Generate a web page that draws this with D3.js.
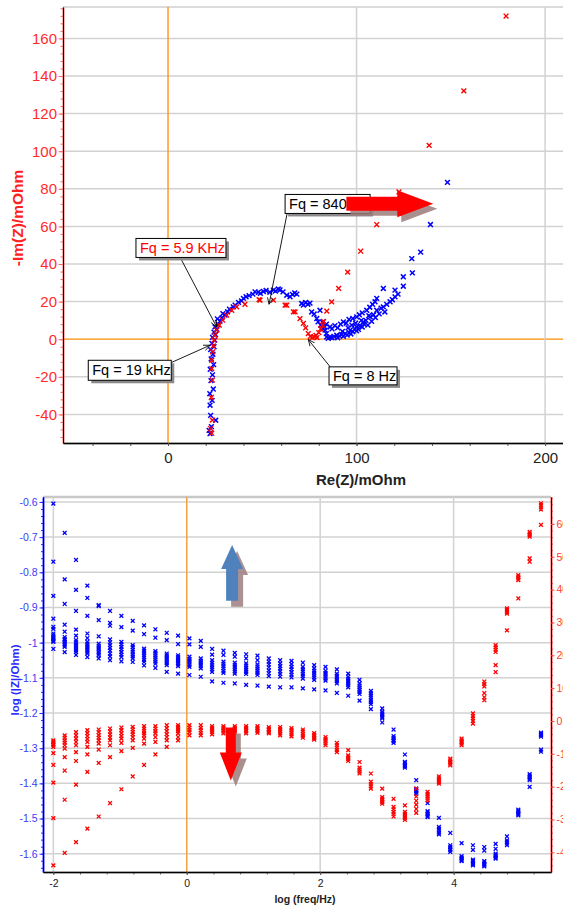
<!DOCTYPE html>
<html>
<head>
<meta charset="utf-8">
<script src="https://cdn.jsdelivr.net/npm/d3@7"></script>
<style>
  body { margin: 0; background: #fff; }
  svg { display: block; font-family: "Liberation Sans", Arial, sans-serif; }
</style>
</head>
<body>
<svg id="chart" width="563" height="908"></svg>
<script>
// ---------- Nyquist data (Re(Z), -Im(Z)) in mOhm ----------
const nyqBlue = [
  [22.3,-50.2],[21.8,-48.5],[23.0,-46.5],[25.3,-43.1],[22.6,-40.5],[22.3,-35.1],[23.4,-32.5],[22.2,-29],
  [24.0,-26.5],[22.8,-22],[23.6,-19],[22.4,-16],[24.2,-13.5],[22.9,-10.5],[23.8,-8],[22.6,-5.5],
  [24.4,-4],[23.3,-2.2],[24.8,-0.5],[23.6,1],[25.2,2.5],[24.4,3.8],[25.9,5.2],[24.9,6.6],[26.6,7.8],
  [27.6,9.6],[26.2,10.8],[28.6,11.4],[30.2,12.8],[29.1,13.6],[31.6,14.6],[32.6,16.0],[34.6,17.2],
  [35.6,18.1],[37.4,19.6],[39.0,20.4],[40.0,21.7],[41.4,22.6],[43.0,23.2],[45.0,24.0],[46.2,25.2],
  [47.9,25.0],[49.0,24.4],[50.6,25.4],[52.0,25.9],[54.0,25.0],[55.9,26.1],[57.0,25.6],[58.5,26.7],
  [59.4,26.2],[61.0,25.2],[63.0,23.4],[64.7,22.6],[66.0,23.8],[67.2,24.6],[68.3,24.0],[70.9,19.0],
  [71.8,18.1],[73.0,19.6],[74.2,18.6],[75.3,19.2],[76.2,14.5],[77.5,13.4],[78.9,11.0],[80.6,15.4],
  [79.6,9.2],[81.0,7.5],[82.0,9.0],[83.0,6.4],[84.0,8.0],[82.2,5.5],[83.3,4.8],[84.0,3.0],[84.2,1.2],
  [85.0,0.5],[85.9,6.5],[86.0,1.0],[87.0,0.8],[87.0,5.5],[88.0,1.5],[88.5,7.2],[89.5,2.1],[90.0,0.8],
  [90.0,6.0],[91.0,1.8],[91.5,8.0],[92.0,2.5],[92.5,4.2],[93.0,1.5],[93.0,9.2],[94.0,3.0],[94.5,8.5],
  [95.0,2.2],[95.5,6.0],[96.0,3.5],[96.0,10.5],[96.6,4.8],[97.0,2.8],[97.5,7.5],[98.0,4.0],[98.0,11.0],
  [99.0,5.5],[99.5,8.5],[100.0,4.5],[100.1,6.5],[100.1,11.9],[101.0,5.2],[101.5,13.0],[102.0,7.2],
  [102.5,10.0],[103.0,6.5],[103.0,14.0],[103.6,9.2],[104.0,8.0],[105.0,10.0],[105.4,15.4],[106.0,7.5],
  [106.5,12.5],[107.0,17.0],[107.2,11.9],[108.0,9.5],[108.5,18.5],[109.0,13.0],[109.8,19.9],[110.0,11.5],
  [110.7,15.4],[110.7,21.7],[112.0,13.5],[113.0,16.5],[114.2,17.2],[114.2,27.0],[115.0,14.5],[116.0,18.5],
  [117.8,19.9],[119.0,21.0],[120.4,22.5],[120.4,26.1],[122.0,24.0],[124.8,28.2],[124.8,33.2],[129.6,35.3],
  [129.3,42.9],[134.0,46.3],[139.2,61.0],[148.2,83.4]
];
const nyqRed = [
  [23.2,-50.0],[22.6,-47.5],[23.5,-43.0],[23.0,-31.0],[23.5,-21.8],[23.2,-15.6],[23.2,-11.2],[23.7,-6.7],
  [24.0,-3.6],[24.4,-0.5],[24.9,2.1],[25.8,4.8],[27.2,7.5],[29.0,10.1],[31.1,12.8],[33.8,15.4],
  [36.4,17.2],[40.8,18.6],[48.8,20.8],[48.3,21.1],[55.9,20.8],[62.1,18.1],[63.0,18.1],[66.5,14.5],
  [67.4,14.5],[70.0,11.0],[71.8,8.4],[73.0,6.0],[74.4,3.0],[75.5,1.5],[76.5,0.8],[77.5,1.2],[78.5,2.0],
  [79.0,0.9],[80.0,3.5],[81.0,5.5],[82.0,7.5],[82.5,9.5],[84.2,14.9],[86.8,19.9],[90.5,27.0],
  [95.3,35.7],[102.2,46.8],[110.7,61.0],[122.5,78.4],[138.5,103.1],[156.9,132.1],[179.3,171.9]
];
const nyqYTicks = [-40, -20, 0, 20, 40, 60, 80, 100, 120, 140, 160];
const nyqXTicks = [0, 100, 200];

// callouts: text, box corner (data), arrow start (data), arrow tip (data)
const nyqNotes = [
  { text: "Fq = 5.9 KHz", color: "#ff0000", box: [-17.0, 53.6], w: 90, h: 19, from: [6.4, 43.6], to: [25.8, 6.5] },
  { text: "Fq = 19 kHz", color: "#000", box: [-42.3, -11.2], w: 83, h: 20, from: [2.0, -12.3], to: [22.3, -3.2] },
  { text: "Fq = 840 Hz", color: "#000", box: [62.1, 77.0], w: 85, h: 19, from: [63.2, 67.0], to: [53.6, 18.6] },
  { text: "Fq = 8 Hz", color: "#000", box: [85.4, -14.7], w: 68, h: 18, from: [86.0, -14.7], to: [74.4, -0.2] }
];

// ---------- Bode data ----------
const bodeLogF = [-2.00,-1.83,-1.66,-1.49,-1.32,-1.15,-0.98,-0.81,-0.64,-0.47,-0.30,-0.13,0.04,0.21,0.38,
  0.55,0.72,0.89,1.06,1.23,1.40,1.57,1.74,1.91,2.08,2.25,2.42,2.59,2.76,2.93,3.10,3.27,3.44,3.61,3.78,
  3.95,4.12,4.29,4.46,4.63,4.80,4.97,5.14,5.31];
const bodeLogZ = [
  [-0.605,-0.770,-0.867,-0.932,-0.955,-0.961,-0.974,-0.979,-0.984,-0.988,-0.991,-0.995,-0.998,-1.018],
  [-0.688,-0.820,-0.890,-0.949,-0.969,-0.984,-0.989,-0.993,-0.998,-1.003,-1.008,-1.012,-1.027],
  [-0.765,-0.850,-0.910,-0.963,-0.980,-0.993,-0.999,-1.005,-1.010,-1.016,-1.021,-1.026,-1.035],
  [-0.838,-0.873,-0.924,-0.974,-0.987,-0.998,-1.004,-1.010,-1.015,-1.021,-1.026,-1.031,-1.041],
  [-0.893,-0.896,-0.936,-0.982,-1.003,-1.009,-1.015,-1.020,-1.026,-1.031,-1.036,-1.045],
  [-0.910,-0.944,-0.952,-0.991,-0.999,-1.007,-1.015,-1.023,-1.031,-1.039,-1.050],
  [-0.924,-0.956,-0.998,-1.005,-1.012,-1.019,-1.027,-1.034,-1.041,-1.053],
  [-0.938,-0.966,-1.007,-1.013,-1.020,-1.026,-1.033,-1.039,-1.045,-1.055],
  [-0.951,-0.976,-1.017,-1.023,-1.029,-1.036,-1.042,-1.049,-1.055,-1.065],
  [-0.962,-0.986,-1.024,-1.030,-1.036,-1.042,-1.048,-1.054,-1.060,-1.072],
  [-0.972,-0.993,-1.031,-1.036,-1.042,-1.047,-1.053,-1.058,-1.064,-1.083],
  [-0.980,-1.004,-1.036,-1.041,-1.047,-1.052,-1.057,-1.062,-1.067,-1.088],
  [-0.988,-1.005,-1.040,-1.046,-1.052,-1.057,-1.063,-1.069,-1.092],
  [-0.995,-1.012,-1.045,-1.051,-1.056,-1.062,-1.067,-1.073,-1.097],
  [-1.018,-1.034,-1.050,-1.057,-1.063,-1.070,-1.076,-1.083,-1.110],
  [-1.023,-1.035,-1.054,-1.060,-1.067,-1.073,-1.080,-1.086,-1.114],
  [-1.029,-1.040,-1.057,-1.063,-1.069,-1.076,-1.082,-1.088,-1.116],
  [-1.033,-1.045,-1.059,-1.065,-1.071,-1.077,-1.083,-1.089,-1.120],
  [-1.037,-1.050,-1.062,-1.068,-1.074,-1.080,-1.086,-1.092,-1.122],
  [-1.045,-1.054,-1.062,-1.070,-1.079,-1.087,-1.095,-1.125],
  [-1.050,-1.059,-1.067,-1.074,-1.082,-1.089,-1.097,-1.127],
  [-1.052,-1.061,-1.069,-1.076,-1.084,-1.091,-1.099,-1.127],
  [-1.057,-1.069,-1.076,-1.082,-1.089,-1.095,-1.102,-1.130],
  [-1.064,-1.073,-1.080,-1.086,-1.093,-1.099,-1.106,-1.133],
  [-1.069,-1.080,-1.086,-1.091,-1.097,-1.102,-1.108,-1.136],
  [-1.076,-1.088,-1.094,-1.099,-1.105,-1.110,-1.116,-1.143],
  [-1.088,-1.097,-1.103,-1.109,-1.115,-1.121,-1.127,-1.151],
  [-1.106,-1.116,-1.122,-1.128,-1.134,-1.140,-1.146,-1.165],
  [-1.137,-1.144,-1.150,-1.156,-1.163,-1.169,-1.175,-1.189],
  [-1.187,-1.196,-1.201,-1.206,-1.211,-1.215,-1.227],
  [-1.247,-1.266,-1.271,-1.276,-1.280,-1.285],
  [-1.318,-1.339,-1.343,-1.347,-1.351,-1.355],
  [-1.391,-1.415,-1.419,-1.422,-1.426,-1.429],
  [-1.456,-1.479,-1.483,-1.488,-1.492,-1.496],
  [-1.498,-1.524,-1.529,-1.534,-1.540,-1.545],
  [-1.541,-1.576,-1.581,-1.586,-1.590,-1.595],
  [-1.570,-1.607,-1.611,-1.614,-1.618,-1.621],
  [-1.576,-1.589,-1.617,-1.621,-1.625,-1.629,-1.633],
  [-1.581,-1.591,-1.621,-1.625,-1.629,-1.632,-1.636],
  [-1.572,-1.586,-1.600,-1.604,-1.607,-1.611,-1.614],
  [-1.551,-1.562,-1.566,-1.571,-1.576],
  [-1.475,-1.479,-1.483,-1.487,-1.491],
  [-1.374,-1.378,-1.383,-1.387,-1.391,-1.410],
  [-1.256,-1.259,-1.263,-1.267,-1.304,-1.310]
];
const bodePhase = [
  [-44.0,-29.6,-18.8,-13.4,-9.8,-7.9,-7.3,-6.9,-6.4,-5.9],
  [-40.2,-24.0,-15.1,-11.0,-8.4,-7.4,-6.6,-5.9,-5.1,-4.4],
  [-36.9,-19.4,-12.2,-9.5,-7.4,-6.4,-5.4,-4.4,-3.4],
  [-32.8,-15.5,-10.2,-7.9,-6.4,-5.5,-4.6,-3.7,-2.8],
  [-29.1,-12.8,-8.7,-6.9,-5.9,-5.1,-4.3,-3.4,-2.6],
  [-25.0,-11.0,-7.4,-5.9,-5.0,-4.1,-3.2,-2.3],
  [-20.8,-9.2,-6.7,-5.4,-4.6,-3.7,-2.8,-2.0],
  [-16.9,-8.2,-5.9,-4.9,-4.1,-3.3,-2.6,-1.8],
  [-13.4,-6.9,-5.4,-4.4,-3.7,-3.0,-2.3,-1.6],
  [-10.2,-6.4,-4.9,-3.8,-3.1,-2.3,-1.6],
  [-7.9,-5.9,-4.9,-4.0,-3.1,-2.2,-1.3],
  [-5.9,-4.9,-3.8,-3.1,-2.5,-1.9,-1.3],
  [-4.4,-3.4,-2.7,-2.0,-1.3],
  [-4.4,-3.6,-2.9,-2.1,-1.3],
  [-4.1,-3.4,-2.8,-2.2,-1.6],
  [-3.8,-3.2,-2.7,-2.1,-1.6],
  [-3.6,-3.1,-2.6,-2.1,-1.6],
  [-3.8,-3.2,-2.7,-2.1,-1.6],
  [-3.6,-3.1,-2.6,-2.1,-1.6],
  [-3.8,-3.3,-2.8,-2.4,-1.9],
  [-4.4,-3.8,-3.1,-2.5,-1.9],
  [-4.7,-4.1,-3.5,-2.8,-2.2],
  [-5.1,-4.5,-3.9,-3.2,-2.6],
  [-5.7,-5.2,-4.7,-4.2,-3.7],
  [-7.4,-6.8,-6.1,-5.5,-4.9],
  [-9.5,-8.8,-8.1,-7.4,-6.7],
  [-8.9,-10.5,-11.1,-11.6,-12.2],
  [-12.5,-14.2,-14.8,-15.4,-16.0],
  [-16.0,-18.5,-19.2,-19.9,-20.6],
  [-20.6,-23.2,-23.7,-24.2,-24.7,-25.2],
  [-23.7,-26.2,-26.9,-27.7,-28.4,-29.1],
  [-25.7,-27.7,-28.3,-28.9,-29.5,-30.1],
  [-20.6,-23.0,-24.3,-25.5,-26.8,-28.0],
  [-21.6,-22.3,-22.9,-23.6,-24.2],
  [-16.9,-17.5,-18.0,-18.6,-19.1],
  [-11.5,-12.0,-12.5,-13.0,-13.5],
  [-5.4,-5.9,-6.4,-6.9,-7.4],
  [2.3,1.5,0.8,0.0,-0.8],
  [12.0,11.2,10.5,8.5,7.2,6.3],
  [23.1,22.4,21.7,21.0,17.0,14.9],
  [34.3,33.8,33.2,32.7,27.6],
  [44.4,43.9,43.4,42.9,37.3],
  [57.6,57.1,56.6,56.1,49.5,48.5],
  [66.3,65.7,65.0,64.4,59.7]
];
const bodeXTicks = [-2, 0, 2, 4];
const bodeZTicks = [-1.6, -1.5, -1.4, -1.3, -1.2, -1.1, -1, -0.9, -0.8, -0.7, -0.6];
const bodePTicks = [-40, -30, -20, -10, 0, 10, 20, 30, 40, 50, 60];

// ---------- helpers ----------
const svg = d3.select("#chart");
const FONT = '"Liberation Sans", Arial, sans-serif';

const cross = (g, pts, xs, ys, color, r, sw) => {
  g.selectAll(null)
    .data(pts)
    .join("path")
    .attr("d", (d) => {
      const x = xs(d[0]), y = ys(d[1]);
      return `M${x - r},${y - r}L${x + r},${y + r}M${x - r},${y + r}L${x + r},${y - r}`;
    })
    .attr("fill", "none")
    .attr("stroke", color)
    .attr("stroke-width", sw);
};

const minorRange = (a, b, step) => {
  const out = [];
  for (let v = a; v <= b + 1e-9; v += step) out.push(+v.toFixed(4));
  return out;
};

const styleAxis = (g, color, lineColor, size) => {
  g.select(".domain").attr("stroke", lineColor).attr("stroke-width", 2);
  g.selectAll(".tick line").attr("stroke", lineColor).attr("stroke-width", 1);
  g.selectAll(".tick text")
    .attr("fill", color)
    .style("font-family", FONT)
    .style("font-size", size + "px");
};

// block arrow polygon, points in px relative to an anchor
const blockArrow = (g, pts, fill, shadow, dx, dy) => {
  const p = pts.map((d) => d.join(",")).join(" ");
  g.append("polygon").attr("points", p).attr("fill", shadow)
    .attr("transform", `translate(${dx},${dy})`).attr("opacity", 0.85);
  g.append("polygon").attr("points", p).attr("fill", fill);
};

// ================= TOP: Nyquist =================
const N = { l: 63, r: 563, t: 7, b: 443 };
const xN = d3.scaleLinear().domain([-55.7, 209.5]).range([N.l, N.r]);
const yN = d3.scaleLinear().domain([-55.2, 176.7]).range([N.b, N.t]);

svg.append("defs").append("clipPath").attr("id", "clipN")
  .append("rect").attr("x", N.l).attr("y", N.t).attr("width", N.r - N.l).attr("height", N.b - N.t);

const gridN = svg.append("g");
gridN.append("line").attr("x1", N.l).attr("x2", N.r).attr("y1", N.t).attr("y2", N.t)
  .attr("stroke", "#cfcfcf").attr("stroke-width", 1.5);
gridN.selectAll(".hy").data(nyqYTicks).join("line")
  .attr("x1", N.l).attr("x2", N.r)
  .attr("y1", (d) => yN(d)).attr("y2", (d) => yN(d))
  .attr("stroke", (d) => (d === 0 ? "#ff8c00" : "#d2d2d2"))
  .attr("stroke-width", (d) => (d === 0 ? 1.3 : 1.5));
gridN.selectAll(".vx").data(nyqXTicks).join("line")
  .attr("y1", N.t).attr("y2", N.b)
  .attr("x1", (d) => xN(d)).attr("x2", (d) => xN(d))
  .attr("stroke", (d) => (d === 0 ? "#ff8c00" : "#d2d2d2"))
  .attr("stroke-width", (d) => (d === 0 ? 1.3 : 1.5));

const ptsN = svg.append("g").attr("clip-path", "url(#clipN)");
cross(ptsN, nyqBlue, xN, yN, "#0000ff", 2.4, 1.5);
cross(ptsN, nyqRed, xN, yN, "#ff0000", 2.4, 1.4);

// axes
const axNy = svg.append("g").attr("transform", `translate(${N.l},0)`);
axNy.call(d3.axisLeft(yN).tickValues(minorRange(-52, 176, 4)).tickSize(2.5).tickSizeOuter(0).tickFormat(""));
axNy.append("g").call(d3.axisLeft(yN).tickValues(nyqYTicks).tickSize(4.5).tickSizeOuter(0)
  .tickPadding(1.5).tickFormat((d) => String(d)));
styleAxis(axNy, "#ff2b2b", "#f06a6a", 15);

const axNx = svg.append("g").attr("transform", `translate(0,${N.b})`);
axNx.call(d3.axisBottom(xN).tickValues(minorRange(-40, 200, 20)).tickSize(3).tickSizeOuter(0).tickFormat(""));
axNx.append("g").call(d3.axisBottom(xN).tickValues(nyqXTicks).tickSize(3).tickSizeOuter(0)
  .tickPadding(6).tickFormat((d) => String(d)));
styleAxis(axNx, "#222", "#555", 15);

svg.append("text")
  .attr("transform", `translate(23,${(N.t + N.b) / 2 - 7}) rotate(-90)`)
  .attr("text-anchor", "middle")
  .attr("fill", "#ff2020").style("font-weight", "bold").style("font-size", "15.5px")
  .text("-Im(Z)/mOhm");
svg.append("text")
  .attr("x", 361).attr("y", 485)
  .attr("text-anchor", "middle")
  .attr("fill", "#222").style("font-weight", "bold").style("font-size", "15px")
  .text("Re(Z)/mOhm");

// callouts
const defs = svg.select("defs");
defs.append("marker").attr("id", "ah").attr("viewBox", "0 0 10 10")
  .attr("refX", 9).attr("refY", 5).attr("markerWidth", 8).attr("markerHeight", 8)
  .attr("orient", "auto-start-reverse")
  .append("path").attr("d", "M0,1L9,5L0,9").attr("fill", "none").attr("stroke", "#000").attr("stroke-width", 1.1);

const notes = svg.append("g");
nyqNotes.forEach((n) => {
  notes.append("line")
    .attr("x1", xN(n.from[0])).attr("y1", yN(n.from[1]))
    .attr("x2", xN(n.to[0])).attr("y2", yN(n.to[1]))
    .attr("stroke", "#000").attr("stroke-width", 0.9)
    .attr("marker-end", "url(#ah)");
  const bx = xN(n.box[0]), by = yN(n.box[1]);
  notes.append("rect").attr("x", bx + 3).attr("y", by + 3).attr("width", n.w).attr("height", n.h)
    .attr("fill", "#8a8a8a");
  notes.append("rect").attr("x", bx).attr("y", by).attr("width", n.w).attr("height", n.h)
    .attr("fill", "#fff").attr("stroke", "#000").attr("stroke-width", 1);
  notes.append("text").attr("x", bx + 4).attr("y", by + n.h / 2 + 5)
    .attr("fill", n.color).style("font-size", "14.5px").text(n.text);
});

// red block arrow over the 840 Hz box
{
  const x0 = xN(94.6), x1 = xN(140.7), cy = yN(72.0), xh = x1 - 36;
  const pts = [[x0, cy - 7], [xh, cy - 7], [xh, cy - 13.5], [x1, cy], [xh, cy + 13.5], [xh, cy + 7], [x0, cy + 7]];
  blockArrow(svg.append("g"), pts, "#ff0000", "#9c7a7a", 4, 5);
}

// ================= BOTTOM: Bode =================
const B = { l: 43, r: 551, t: 497, b: 872 };
const xB = d3.scaleLinear().domain([-2.155, 5.46]).range([B.l, B.r]);
const yZ = d3.scaleLinear().domain([-1.652, -0.586]).range([B.b, B.t]);
const yP = d3.scaleLinear().domain([-46, 68.2]).range([B.b, B.t]);

defs.append("clipPath").attr("id", "clipB")
  .append("rect").attr("x", B.l).attr("y", B.t).attr("width", B.r - B.l).attr("height", B.b - B.t);

const gridB = svg.append("g");
gridB.append("line").attr("x1", B.l).attr("x2", B.r).attr("y1", B.t).attr("y2", B.t)
  .attr("stroke", "#c8c8c8").attr("stroke-width", 2.5);
gridB.selectAll(".hz").data(bodeZTicks).join("line")
  .attr("x1", B.l).attr("x2", B.r)
  .attr("y1", (d) => yZ(d)).attr("y2", (d) => yZ(d))
  .attr("stroke", "#d2d2d2").attr("stroke-width", 1.5);
gridB.selectAll(".vb").data(bodeXTicks).join("line")
  .attr("y1", B.t).attr("y2", B.b)
  .attr("x1", (d) => xB(d)).attr("x2", (d) => xB(d))
  .attr("stroke", (d) => (d === 0 ? "#f5a040" : "#d2d2d2"))
  .attr("stroke-width", 1.5);

const ptsB = svg.append("g").attr("clip-path", "url(#clipB)");
const zPts = bodeLogF.flatMap((f, i) => bodeLogZ[i].map((v) => [f, v]));
const pPts = bodeLogF.flatMap((f, i) => bodePhase[i].map((v) => [f, v]));
cross(ptsB, zPts, xB, yZ, "#0000ff", 1.9, 1.3);
cross(ptsB, pPts, xB, yP, "#ff0000", 1.9, 1.3);

const axBz = svg.append("g").attr("transform", `translate(${B.l},0)`);
axBz.call(d3.axisLeft(yZ).tickValues(minorRange(-1.64, -0.6, 0.02)).tickSize(2).tickSizeOuter(0).tickFormat(""));
axBz.append("g").call(d3.axisLeft(yZ).tickValues(bodeZTicks).tickSize(3.5).tickSizeOuter(0)
  .tickPadding(2).tickFormat((d) => String(d)));
styleAxis(axBz, "#3b3bf0", "#2a2aff", 10.5);

const axBp = svg.append("g").attr("transform", `translate(${B.r},0)`);
axBp.call(d3.axisRight(yP).tickValues(minorRange(-44, 68, 2)).tickSize(2).tickSizeOuter(0).tickFormat(""));
axBp.append("g").call(d3.axisRight(yP).tickValues(bodePTicks).tickSize(3.5).tickSizeOuter(0)
  .tickPadding(2).tickFormat((d) => String(d)));
styleAxis(axBp, "#ff3a3a", "#ff4a4a", 10.5);

const axBx = svg.append("g").attr("transform", `translate(0,${B.b})`);
axBx.call(d3.axisBottom(xB).tickValues(minorRange(-2, 5.2, 0.4)).tickSize(2.5).tickSizeOuter(0).tickFormat(""));
axBx.append("g").call(d3.axisBottom(xB).tickValues(bodeXTicks).tickSize(3).tickSizeOuter(0)
  .tickPadding(5).tickFormat((d) => String(d)));
styleAxis(axBx, "#222", "#555", 10.5);

svg.append("text")
  .attr("transform", `translate(19,680) rotate(-90)`)
  .attr("text-anchor", "middle")
  .attr("fill", "#2a2aff").style("font-weight", "bold").style("font-size", "11.5px")
  .text("log (|Z|/Ohm)");
svg.append("text")
  .attr("x", 305).attr("y", 903)
  .attr("text-anchor", "middle")
  .attr("fill", "#222").style("font-weight", "bold").style("font-size", "10.5px")
  .text("log (freq/Hz)");

// up / down block arrows
{
  const cx = xB(0.68), top = yZ(-0.7225), bot = yZ(-0.881);
  const pts = [[cx - 6, bot], [cx - 6, top + 24], [cx - 11, top + 24], [cx, top],
    [cx + 11, top + 24], [cx + 6, top + 24], [cx + 6, bot]];
  blockArrow(svg.append("g"), pts, "#4f81bd", "#9c7e7e", 5, 6);
}
{
  const cx = xB(0.66), top = yZ(-1.241), tip = yZ(-1.392);
  const pts = [[cx - 5, top], [cx + 5, top], [cx + 5, tip - 28], [cx + 11, tip - 28], [cx, tip],
    [cx - 11, tip - 28], [cx - 5, tip - 28]];
  blockArrow(svg.append("g"), pts, "#ff0000", "#9c7a7a", 5, 6);
}
</script>
</body>
</html>
